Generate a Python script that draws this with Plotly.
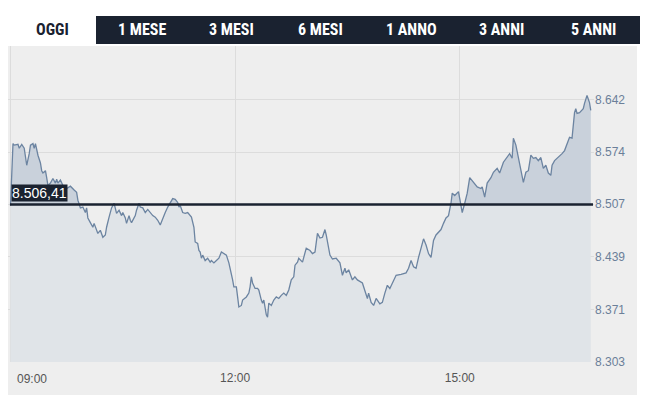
import numpy as np
import plotly.graph_objects as go

DAY = "2024-05-20 "
TIMES = [
    "09:00", "09:02", "09:03", "09:06", "09:07", "09:09", "09:11", "09:12", "09:13", "09:15",
    "09:16", "09:18", "09:19", "09:20", "09:22", "09:24", "09:25", "09:26", "09:28", "09:29",
    "09:30", "09:32", "09:34", "09:36", "09:37", "09:38", "09:40", "09:42", "09:43", "09:45",
    "09:48", "09:51", "09:53", "09:54", "09:56", "09:58", "10:00", "10:01", "10:02", "10:04",
    "10:06", "10:07", "10:09", "10:10", "10:12", "10:14", "10:16", "10:17", "10:19", "10:20",
    "10:21", "10:23", "10:24", "10:25", "10:27", "10:29", "10:30", "10:32", "10:33", "10:35",
    "10:36", "10:37", "10:40", "10:41", "10:43", "10:44", "10:46", "10:48", "10:50", "10:52",
    "10:54", "10:56", "10:58", "11:00", "11:02", "11:04", "11:06", "11:08", "11:10", "11:12",
    "11:14", "11:15", "11:16", "11:18", "11:20", "11:22", "11:24", "11:25", "11:27", "11:28",
    "11:30", "11:31", "11:32", "11:33", "11:34", "11:36", "11:38", "11:40", "11:41", "11:43",
    "11:45", "11:47", "11:49", "11:51", "11:53", "11:55", "11:57", "11:58", "11:59", "12:01",
    "12:02", "12:03", "12:05", "12:06", "12:09", "12:11", "12:12", "12:13", "12:14", "12:16",
    "12:18", "12:19", "12:21", "12:22", "12:23", "12:25", "12:26", "12:27", "12:29", "12:31",
    "12:33", "12:35", "12:37", "12:39", "12:41", "12:43", "12:45", "12:47", "12:48", "12:50",
    "12:51", "12:54", "12:57", "13:00", "13:02", "13:04", "13:06", "13:08", "13:10", "13:12",
    "13:13", "13:16", "13:18", "13:21", "13:24", "13:26", "13:28", "13:29", "13:31", "13:34",
    "13:36", "13:38", "13:42", "13:44", "13:46", "13:47", "13:49", "13:51", "13:53", "13:56",
    "13:58", "14:00", "14:02", "14:04", "14:06", "14:09", "14:13", "14:17", "14:19", "14:21",
    "14:23", "14:25", "14:27", "14:29", "14:31", "14:33", "14:35", "14:37", "14:39", "14:41",
    "14:43", "14:45", "14:47", "14:49", "14:51", "14:53", "14:54", "14:56", "14:59", "15:01",
    "15:02", "15:04", "15:06", "15:08", "15:11", "15:14", "15:17", "15:18", "15:20", "15:22",
    "15:25", "15:27", "15:30", "15:32", "15:35", "15:38", "15:40", "15:42", "15:43", "15:45",
    "15:47", "15:49", "15:51", "15:53", "15:55", "15:57", "15:59", "16:01", "16:03", "16:05",
    "16:07", "16:09", "16:11", "16:13", "16:14", "16:16", "16:19", "16:22", "16:24", "16:27",
    "16:28", "16:30", "16:31", "16:32", "16:33", "16:34", "16:36", "16:39", "16:40", "16:42",
    "16:44", "16:45",
]
VALUES = [
    8505, 8585, 8583, 8584, 8579, 8584, 8579, 8567, 8557, 8572,
    8583, 8585, 8579, 8585, 8570, 8560, 8550, 8547, 8550, 8541,
    8531, 8534, 8540, 8534, 8539, 8534, 8538, 8531, 8527, 8527,
    8530, 8525, 8522, 8512, 8502, 8503, 8496, 8502, 8489, 8483,
    8477, 8482, 8473, 8469, 8473, 8464, 8467, 8477, 8490, 8496,
    8502, 8508, 8503, 8495, 8499, 8492, 8496, 8489, 8482, 8492,
    8486, 8483, 8492, 8499, 8508, 8503, 8502, 8496, 8500, 8496,
    8492, 8490, 8486, 8480, 8489, 8496, 8503, 8509, 8514, 8513,
    8509, 8503, 8505, 8496, 8495, 8496, 8492, 8490, 8477, 8458,
    8456, 8447, 8445, 8437, 8441, 8434, 8437, 8432, 8434, 8431,
    8434, 8437, 8445, 8443, 8441, 8431, 8418, 8409, 8400, 8400,
    8387, 8374, 8376, 8383, 8387, 8392, 8400, 8413, 8405, 8398,
    8398, 8396, 8383, 8379, 8383, 8364, 8361, 8379, 8376, 8383,
    8387, 8385, 8389, 8392, 8389, 8396, 8409, 8413, 8428, 8432,
    8437, 8432, 8450, 8447, 8443, 8445, 8469, 8463, 8464, 8474,
    8467, 8441, 8436, 8437, 8431, 8415, 8424, 8418, 8422, 8409,
    8413, 8409, 8405, 8396, 8385, 8392, 8380, 8376, 8385, 8378,
    8380, 8392, 8402, 8398, 8405, 8415, 8416, 8418, 8424, 8434,
    8426, 8424, 8438, 8451, 8462, 8454, 8443, 8438, 8460, 8467,
    8471, 8474, 8482, 8489, 8492, 8508, 8521, 8518, 8523, 8508,
    8496, 8508, 8521, 8541, 8535, 8529, 8527, 8529, 8516, 8534,
    8541, 8548, 8553, 8547, 8561, 8567, 8572, 8566, 8592, 8583,
    8567, 8550, 8535, 8548, 8550, 8570, 8566, 8567, 8563, 8567,
    8553, 8557, 8547, 8544, 8557, 8563, 8567, 8572, 8576, 8587,
    8593, 8592, 8605, 8625, 8630, 8624, 8625, 8630, 8637, 8647,
    8638, 8628,
]
REF_VALUE = 8506.41
REF_LABEL = "8.506,41"
Y_TICKS = [8303, 8371, 8439, 8507, 8574, 8642]
Y_TICK_LABELS = ["8.303", "8.371", "8.439", "8.507", "8.574", "8.642"]
X_TICKS = ["09:00", "12:00", "15:00"]
X_TICK_LABELS = ["09:00", "12:00", "15:00"]
X_RANGE = ["08:58:00", "16:47:36"]
Y_RANGE = [8303, 8711]
TABS = ["OGGI", "1 MESE", "3 MESI", "6 MESI", "1 ANNO", "3 ANNI", "5 ANNI"]
TAB_CENTERS_PX = [52, 142, 231, 320, 411, 501, 593]

# the page body adds an 8px margin; positions below are page pixels
OFF = 8
W, H = 653 - OFF, 395 - OFF
PLOT_L, PLOT_R, PLOT_T, PLOT_B = 8, 594, 46, 362
ML, MR, MT, MB = PLOT_L - OFF, 653 - PLOT_R, PLOT_T - OFF, 395 - PLOT_B
PW, PH = PLOT_R - PLOT_L, PLOT_B - PLOT_T


def px_x(px):
    return (px - PLOT_L) / PW


def px_y(py):
    return (PLOT_B - py) / PH


x = [DAY + t for t in TIMES]
v = np.array(VALUES, dtype=float)

NAVY = "#1a2230"
LINE = "#6c84a1"
XFONT = dict(family="Liberation Sans, Arial, sans-serif", size=12, color="#555555")

fig = go.Figure()
fig.add_trace(go.Scatter(x=x, y=v, mode="lines", line=dict(width=0),
                         fill="tozeroy", fillcolor="#e0e4e8", hoverinfo="skip"))
fig.add_trace(go.Scatter(x=x, y=np.full(len(v), REF_VALUE), mode="lines",
                         line=dict(width=0), hoverinfo="skip"))
fig.add_trace(go.Scatter(x=x, y=np.maximum(v, REF_VALUE), mode="lines",
                         line=dict(width=0), fill="tonexty",
                         fillcolor="#c9d1db", hoverinfo="skip"))
fig.add_trace(go.Scatter(x=x, y=v, mode="lines",
                         line=dict(color=LINE, width=1.3)))
# invisible companion on the overlaid axis that carries the first time label
fig.add_trace(go.Scatter(x=x[:1], y=v[:1], mode="markers", xaxis="x2",
                         marker=dict(opacity=0), hoverinfo="skip"))

shapes = [
    dict(type="rect", xref="paper", yref="paper", x0=px_x(8), x1=px_x(637),
         y0=px_y(400), y1=px_y(46), fillcolor="#eeeeee", line=dict(width=0),
         layer="below"),
    dict(type="rect", xref="paper", yref="paper", x0=px_x(96), x1=px_x(640),
         y0=px_y(44), y1=px_y(16), fillcolor=NAVY, line=dict(width=0)),
    dict(type="line", xref="paper", yref="y", x0=px_x(10), x1=px_x(593),
         y0=REF_VALUE, y1=REF_VALUE, line=dict(color=NAVY, width=2.5),
         layer="above"),
]

annotations = [
    dict(text=REF_LABEL, xref="paper", yref="y", x=px_x(11), y=REF_VALUE,
         xanchor="left", yanchor="bottom", yshift=2, showarrow=False,
         bgcolor=NAVY, borderpad=0,
         font=dict(family="Liberation Sans, Arial, sans-serif", size=14,
                   color="white")),
]
for i, (name, cx) in enumerate(zip(TABS, TAB_CENTERS_PX)):
    annotations.append(dict(
        text="<b>" + name + "</b>", xref="paper", yref="paper",
        x=px_x(cx), y=px_y(30), xanchor="center", yanchor="middle",
        showarrow=False,
        font=dict(family="Roboto Condensed, Liberation Sans Narrow, Roboto, sans-serif",
                  size=16, color=NAVY if i == 0 else "white")))

fig.update_layout(
    width=W, height=H,
    margin=dict(l=ML, r=MR, t=MT, b=MB, autoexpand=False),
    paper_bgcolor="white",
    plot_bgcolor="rgba(0,0,0,0)",
    showlegend=False,
    shapes=shapes,
    annotations=annotations,
    xaxis=dict(
        type="date",
        automargin=False,
        range=[DAY + X_RANGE[0], DAY + X_RANGE[1]],
        tickvals=[DAY + t for t in X_TICKS],
        ticktext=[""] + X_TICK_LABELS[1:],
        showgrid=True, gridcolor="#dcdcdc", gridwidth=1,
        zeroline=False, showline=False,
        ticks="outside", ticklen=5, tickcolor="rgba(0,0,0,0)",
        tickfont=XFONT,
    ),
    xaxis2=dict(
        type="date",
        overlaying="x",
        matches="x",
        side="bottom",
        automargin=False,
        tickvals=[DAY + X_TICKS[0]],
        ticktext=X_TICK_LABELS[:1],
        ticklabelposition="outside right",
        ticklabelshift=6,
        ticklabelstandoff=6,
        showgrid=False, zeroline=False, showline=False,
        ticks="outside", ticklen=5, tickcolor="rgba(0,0,0,0)",
        tickfont=XFONT,
    ),
    yaxis=dict(
        automargin=False,
        range=Y_RANGE,
        side="right",
        tickvals=Y_TICKS,
        ticktext=Y_TICK_LABELS,
        showgrid=True, gridcolor="#dcdcdc", gridwidth=1,
        zeroline=False, showline=False,
        tickfont=dict(family="Liberation Sans, Arial, sans-serif", size=12,
                      color="#6b7f99"),
    ),
)

fig.write_html("out.html")
